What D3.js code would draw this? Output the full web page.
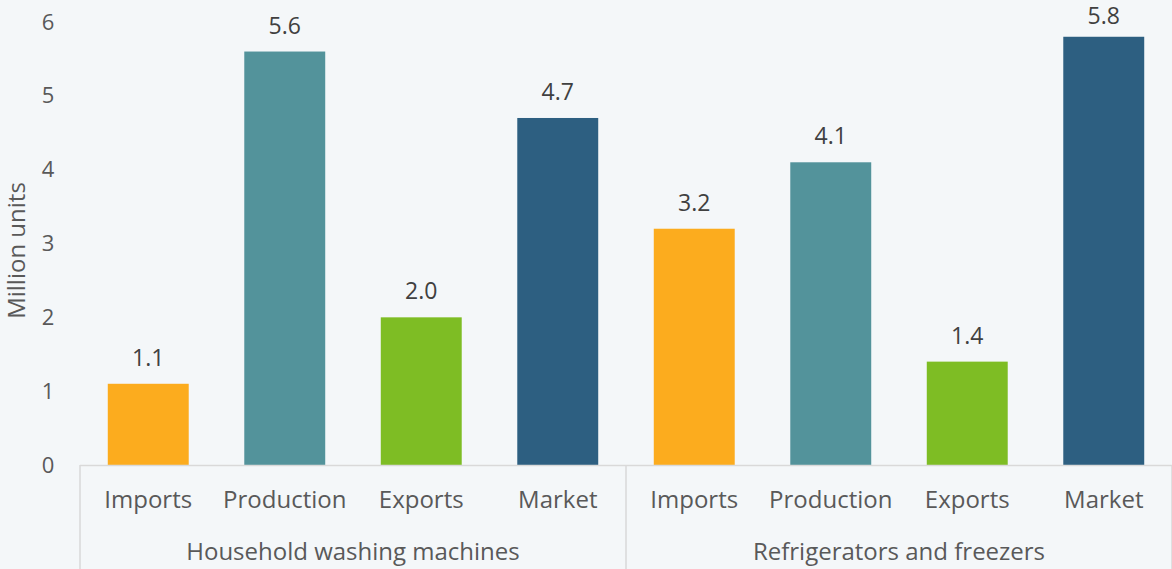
<!DOCTYPE html>
<html><head><meta charset="utf-8">
<script src="https://cdn.jsdelivr.net/npm/d3@7"></script>
<style>
html,body{margin:0;padding:0;background:#f4f7f9;}
svg{display:block;font-family:"Open Sans",sans-serif;}
</style></head>
<body><svg id="c" width="1172" height="569"></svg>
<script>
const groups = ["Household washing machines", "Refrigerators and freezers"];
const categories = ["Imports", "Production", "Exports", "Market"];
const washingValues = [1.1, 5.6, 2.0, 4.7];
const fridgeValues = [3.2, 4.1, 1.4, 5.8];
const colors = ["#fcac1e", "#53939b", "#7ebd24", "#2d5f81"];
const yTicks = [0, 1, 2, 3, 4, 5, 6];
const yTitle = "Million units";

const rows = [];
[washingValues, fridgeValues].forEach((vals, gi) => {
  vals.forEach((v, ci) => rows.push({group: groups[gi], cat: categories[ci], ci, gi, value: v, key: gi + "-" + ci}));
});

const W = 1172, H = 569;
const m = {left: 80, right: 0, top: 22, bottom: 104};
const svg = d3.select("#c");
const x = d3.scaleBand().domain(rows.map(d => d.key)).range([m.left, W - m.right]).paddingInner(0.407).paddingOuter(0.2035);
const y = d3.scaleLinear().domain([0, 6]).range([H - m.bottom, m.top]);
const base = y(0);

// y axis labels
const ya = svg.append("g").attr("transform", `translate(48,0)`)
  .call(d3.axisLeft(y).tickValues(yTicks).tickSize(0).tickFormat(d3.format("d")));
ya.select(".domain").remove();
ya.selectAll("text").attr("font-size", 22).attr("fill", "#595959").attr("font-family", "Open Sans").attr("text-anchor", "middle").attr("dx", 0).attr("x", 0);

svg.append("text").attr("transform", `translate(25,${(y(6)+base)/2 + 7}) rotate(-90)`)
  .attr("text-anchor", "middle").attr("font-size", 24).attr("fill", "#595959").text(yTitle);

// bars
svg.selectAll("rect.bar").data(rows).join("rect").attr("class", "bar")
  .attr("x", d => x(d.key)).attr("width", x.bandwidth())
  .attr("y", d => y(d.value)).attr("height", d => base - y(d.value))
  .attr("fill", d => colors[d.ci]);

svg.selectAll("text.val").data(rows).join("text").attr("class", "val")
  .attr("x", d => x(d.key) + x.bandwidth() / 2).attr("y", d => Math.max(24, y(d.value) - 18))
  .attr("text-anchor", "middle").attr("font-size", 23).attr("fill", "#404040")
  .text(d => d3.format(".1f")(d.value));

// x axis
const lineColor = "#d9d9d9";
svg.append("line").attr("x1", m.left).attr("x2", W).attr("y1", base + 0.5).attr("y2", base + 0.5).attr("stroke", lineColor).attr("stroke-width", 1.5);
const step = x.step();
const gw = step * categories.length;
[0, 1, 2].forEach(i => {
  const xx = m.left + i * gw;
  svg.append("line").attr("x1", xx).attr("x2", xx).attr("y1", base).attr("y2", H).attr("stroke", lineColor).attr("stroke-width", 1.5);
});

const xa = svg.append("g").attr("transform", `translate(0,${base})`)
  .call(d3.axisBottom(x).tickSize(0).tickFormat(k => categories[+k.split("-")[1]]));
xa.select(".domain").remove();
xa.selectAll("text").attr("font-size", 24).attr("fill", "#595959").attr("font-family", "Open Sans").attr("dy", 0).attr("y", 43);

svg.selectAll("text.grp").data(groups).join("text").attr("class", "grp")
  .attr("x", (d, i) => m.left + gw * i + gw / 2).attr("y", 560)
  .attr("text-anchor", "middle").attr("font-size", 24).attr("fill", "#595959").text(d => d);
</script></body></html>
